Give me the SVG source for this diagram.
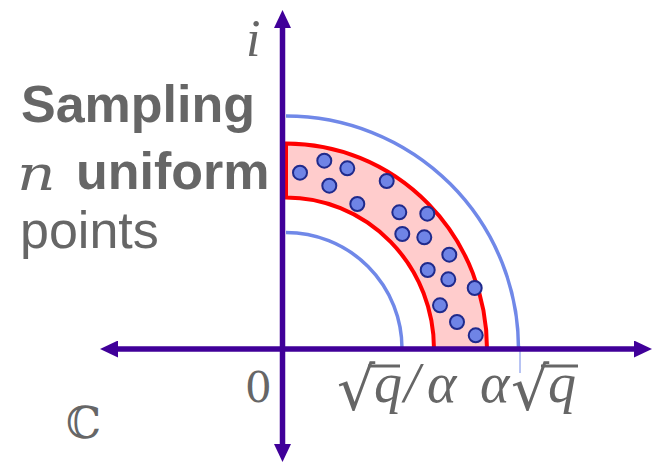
<svg xmlns="http://www.w3.org/2000/svg" width="653" height="463" viewBox="0 0 653 463">
<defs>
<style>
.ax{stroke:#400099;stroke-width:5.5;fill:none;marker-start:url(#ah);marker-end:url(#ah)}
.barc{fill:none;stroke:#7088e8;stroke-width:3.5}
.ring{fill:#ffcccc;stroke:#ff0000;stroke-width:4;stroke-linejoin:miter}
.dot{fill:#6f84e6;stroke:#1f2a8c;stroke-width:2}
.lbl{fill:#666;font-family:"Liberation Sans",Arial,sans-serif;font-size:52px}
.b{font-weight:bold}
.m{fill:#666;font-family:"DejaVu Serif","Liberation Serif",serif;font-style:italic}
.ls{fill:#666;font-family:"Liberation Serif","DejaVu Serif",serif;font-style:italic}
.mu{fill:#666;font-family:"DejaVu Serif","Liberation Serif",serif;font-style:normal}
.bar{stroke:#666;stroke-width:3}
</style>
<marker id="ah" viewBox="0 0 18 17" refX="1" refY="8.5" markerWidth="18" markerHeight="17" markerUnits="userSpaceOnUse" orient="auto-start-reverse">
<path d="M0,0 L18,8.5 L0,17 z" fill="#400099"/>
</marker>
</defs>

<g id="ring">
<path class="ring" d="M286,143.5 A201,205.5 0 0 1 487,349 L434,349 A148,151.5 0 0 0 286,197.5 Z"/>
</g>
<g id="arcs">
<path class="barc" d="M286,232.5 A116,116 0 0 1 402,348.5"/>
<path class="barc" d="M286,116 A232.5,232.5 0 0 1 518.5,348.5"/>
<line x1="520" y1="346" x2="520" y2="373" stroke="#7088e8" stroke-width="1"/>
</g>
<g id="points">
<circle class="dot" cx="300" cy="172.7" r="7"/>
<circle class="dot" cx="324.3" cy="160.7" r="7"/>
<circle class="dot" cx="347.3" cy="168.3" r="7"/>
<circle class="dot" cx="329.3" cy="185.7" r="7"/>
<circle class="dot" cx="386.7" cy="181" r="7"/>
<circle class="dot" cx="357.3" cy="204" r="7"/>
<circle class="dot" cx="399.3" cy="212.3" r="7"/>
<circle class="dot" cx="427.3" cy="213.7" r="7"/>
<circle class="dot" cx="402.3" cy="234" r="7"/>
<circle class="dot" cx="424.3" cy="237.3" r="7"/>
<circle class="dot" cx="449.3" cy="254.7" r="7"/>
<circle class="dot" cx="427.7" cy="270" r="7"/>
<circle class="dot" cx="448.3" cy="279.3" r="7"/>
<circle class="dot" cx="474.7" cy="288" r="7"/>
<circle class="dot" cx="440" cy="305.3" r="7"/>
<circle class="dot" cx="457" cy="322" r="7"/>
<circle class="dot" cx="475.7" cy="335.3" r="7"/>
</g>
<g id="axes">
<line class="ax" x1="282.5" y1="445" x2="282.5" y2="27"/>
<line class="ax" x1="117" y1="349" x2="635" y2="349"/>
</g>
<g id="title">
<text class="lbl b" x="21" y="122">Sampling</text>
<text class="m" transform="translate(17,190) scale(1.25,1)" font-size="48">n</text>
<text class="lbl b" x="76" y="189">uniform</text>
<text class="lbl" x="20" y="248">points</text>
</g>
<g id="labels">
<text class="ls" x="246" y="56" font-size="52">i</text>
<text class="mu" x="245" y="402" font-size="42">0</text>
<line class="bar" x1="368" y1="366" x2="400" y2="366"/>
<text class="ls" y="402" font-size="56"><tspan class="mu" x="337" dy="8" font-size="60">√</tspan><tspan x="374" dy="-8">q</tspan><tspan x="404">/</tspan><tspan x="427">α</tspan></text>
<line class="bar" x1="541" y1="366" x2="578" y2="366"/>
<text class="ls" y="402" font-size="56"><tspan x="480">α</tspan><tspan class="mu" x="511" dy="8" font-size="60">√</tspan><tspan x="548" dy="-8">q</tspan></text>
<text class="mu" x="66" y="438" font-size="44">ℂ</text>
</g>
</svg>
